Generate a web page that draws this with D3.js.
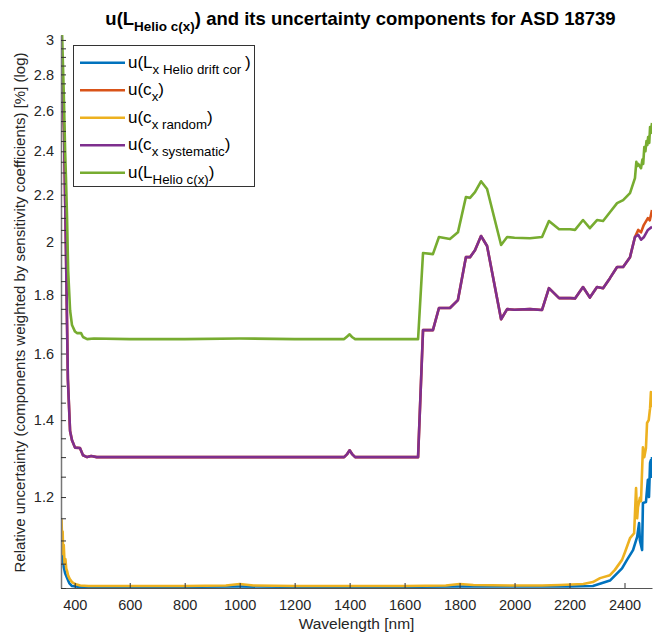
<!DOCTYPE html>
<html>
<head>
<meta charset="utf-8">
<script src="https://cdn.jsdelivr.net/npm/d3@7"></script>
<style>
  html, body { margin: 0; padding: 0; background: #fff; }
  svg { display: block; font-family: "Liberation Sans", Arial, Helvetica, sans-serif; }
</style>
</head>
<body>
<svg id="chart" width="665" height="639"></svg>
<script>
// ---------------- data ----------------
const xTicks = [400, 600, 800, 1000, 1200, 1400, 1600, 1800, 2000, 2200, 2400];
const yTickLabels = [1.2, 1.4, 1.6, 1.8, 2, 2.2, 2.4, 2.6, 2.8, 3];
const yMinorTicks = d3.range(1.0, 3.0001, 0.05).map(v => +v.toFixed(2));

const blueWl = [350, 352, 354, 357, 360, 365, 371, 380, 390, 420, 600, 1000, 1400, 1800, 2200, 2285, 2347, 2391, 2409, 2431, 2446, 2453, 2456, 2464, 2467, 2478, 2485, 2489, 2493, 2496, 2498, 2500];
const blueVal = [1.05, 1.073, 1.06, 1.065, 1.043, 1.03, 1.022, 1.010, 1.004, 1.002, 1.002, 1.003, 1.002, 1.003, 1.003, 1.004, 1.015, 1.04, 1.058, 1.079, 1.108, 1.139, 1.10, 1.079, 1.186, 1.188, 1.242, 1.20, 1.285, 1.292, 1.25, 1.30];

const orangeWl = [350, 354, 361, 368, 375, 383, 390, 401, 419, 430, 445, 460, 480, 600, 800, 1000, 1200, 1380, 1390, 1400, 1410, 1420, 1550, 1649, 1667, 1703, 1725, 1765, 1794, 1823, 1838, 1856, 1878, 1900, 1951, 1973, 2000, 2056, 2100, 2125, 2162, 2202, 2220, 2249, 2274, 2300, 2322, 2347, 2373, 2395, 2420, 2438, 2450, 2460, 2470, 2485, 2492, 2500];
const orangeVal = [2.85, 2.78, 2.50, 1.97, 1.52, 1.37, 1.345, 1.325, 1.324, 1.305, 1.300, 1.303, 1.300, 1.300, 1.300, 1.300, 1.300, 1.300, 1.307, 1.318, 1.307, 1.300, 1.300, 1.300, 1.677, 1.677, 1.753, 1.753, 1.781, 1.941, 1.941, 1.968, 2.025, 1.985, 1.714, 1.749, 1.747, 1.749, 1.746, 1.824, 1.788, 1.788, 1.787, 1.828, 1.79, 1.828, 1.824, 1.861, 1.903, 1.903, 1.941, 2.021, 2.05, 2.04, 2.07, 2.099, 2.09, 2.133];

const yellowWl = [350, 352, 354, 356, 358, 360, 363, 366, 369, 372, 376, 382, 390, 401, 420, 450, 600, 800, 950, 1000, 1050, 1200, 1400, 1600, 1750, 1800, 1850, 2000, 2100, 2165, 2250, 2285, 2311, 2347, 2365, 2391, 2402, 2420, 2435, 2442, 2446, 2449, 2456, 2460, 2467, 2472, 2478, 2482, 2488, 2493, 2496, 2500];
const yellowVal = [1.10, 1.146, 1.10, 1.12, 1.07, 1.09, 1.05, 1.06, 1.04, 1.035, 1.025, 1.018, 1.012, 1.008, 1.005, 1.004, 1.004, 1.004, 1.005, 1.008, 1.005, 1.004, 1.004, 1.004, 1.005, 1.008, 1.006, 1.005, 1.005, 1.006, 1.008, 1.012, 1.020, 1.026, 1.037, 1.058, 1.075, 1.105, 1.116, 1.222, 1.15, 1.176, 1.198, 1.19, 1.326, 1.30, 1.324, 1.392, 1.40, 1.434, 1.481, 1.437];

const purpleWl = [350, 354, 361, 368, 375, 383, 390, 401, 419, 430, 445, 460, 480, 600, 800, 1000, 1200, 1380, 1390, 1400, 1410, 1420, 1550, 1649, 1667, 1703, 1725, 1765, 1794, 1823, 1838, 1856, 1878, 1900, 1951, 1973, 2000, 2056, 2100, 2125, 2162, 2202, 2220, 2249, 2274, 2300, 2322, 2347, 2373, 2395, 2420, 2438, 2450, 2460, 2470, 2485, 2500];
const purpleVal = [2.85, 2.78, 2.50, 1.97, 1.52, 1.37, 1.345, 1.325, 1.324, 1.305, 1.300, 1.303, 1.300, 1.300, 1.300, 1.300, 1.300, 1.300, 1.307, 1.318, 1.307, 1.300, 1.300, 1.300, 1.677, 1.677, 1.753, 1.753, 1.781, 1.941, 1.941, 1.968, 2.025, 1.985, 1.714, 1.749, 1.747, 1.749, 1.746, 1.824, 1.788, 1.788, 1.787, 1.828, 1.79, 1.828, 1.824, 1.861, 1.903, 1.903, 1.941, 2.021, 2.03, 2.01, 2.02, 2.05, 2.063];

const greenWl = [350, 354, 360, 365, 368, 372, 376, 383, 390, 401, 408, 423, 430, 445, 470, 600, 800, 1000, 1200, 1380, 1390, 1400, 1410, 1420, 1550, 1649, 1667, 1703, 1725, 1765, 1794, 1823, 1838, 1856, 1878, 1900, 1951, 1973, 2000, 2056, 2100, 2125, 2162, 2202, 2220, 2249, 2274, 2300, 2322, 2347, 2373, 2395, 2420, 2438, 2443, 2446, 2450, 2455, 2460, 2465, 2468, 2472, 2476, 2480, 2483, 2486, 2490, 2493, 2496, 2500];
const greenVal = [3.10, 3.03, 2.70, 2.40, 2.28, 2.10, 1.89, 1.745, 1.694, 1.672, 1.667, 1.667, 1.654, 1.647, 1.649, 1.647, 1.647, 1.649, 1.647, 1.647, 1.655, 1.663, 1.653, 1.647, 1.647, 1.647, 1.957, 1.953, 2.021, 2.013, 2.04, 2.19, 2.186, 2.211, 2.26, 2.225, 1.989, 2.021, 2.018, 2.016, 2.021, 2.087, 2.053, 2.053, 2.05, 2.091, 2.057, 2.091, 2.087, 2.124, 2.163, 2.176, 2.207, 2.274, 2.35, 2.33, 2.34, 2.33, 2.32, 2.36, 2.34, 2.42, 2.40, 2.45, 2.43, 2.47, 2.44, 2.52, 2.49, 2.54];

const seriesNames = ["blue", "orange", "yellow", "purple", "green"];
const seriesColors = ["#0072BD", "#D95319", "#EDB120", "#7E2F8E", "#77AC30"];
const legendMain = ["u(L", "u(c", "u(c", "u(c", "u(L"];
const legendSub = ["x Helio drift cor ", "x", "x random", "x systematic", "Helio c(x)"];

// ---------------- layout ----------------
const svg = d3.select("#chart");
const L = 61, R = 652, T = 35, B = 588;
const textColor = "#262626";

const x = d3.scaleLinear().domain([350, 2500]).range([L, R]);
const y = d3.scaleLog().domain([1, 3.03]).range([B, T]);

svg.append("defs").append("clipPath").attr("id", "clip")
  .append("rect").attr("x", L).attr("y", T).attr("width", R - L).attr("height", B - T);

// ---------------- series ----------------
const allSeries = [
  {wl: blueWl, val: blueVal},
  {wl: orangeWl, val: orangeVal},
  {wl: yellowWl, val: yellowVal},
  {wl: purpleWl, val: purpleVal},
  {wl: greenWl, val: greenVal}
];
const line = d3.line().x(d => x(d[0])).y(d => y(d[1]));
const plotG = svg.append("g").attr("clip-path", "url(#clip)");
allSeries.forEach((s, i) => {
  const pts = s.wl.map((w, j) => [w, s.val[j]]);
  plotG.append("path").datum(pts)
    .attr("d", line)
    .attr("fill", "none")
    .attr("stroke", seriesColors[i])
    .attr("stroke-width", 2.6)
    .attr("stroke-linejoin", "round");
});

// ---------------- axes ----------------
const xAxis = d3.axisBottom(x).tickValues(xTicks).tickSize(-5).tickSizeOuter(0).tickPadding(12).tickFormat(d3.format("d"));
const gx = svg.append("g").attr("transform", `translate(0,${B})`).call(xAxis);
gx.select(".domain").attr("stroke", "#555").attr("stroke-width", 1.2);
gx.selectAll(".tick line").attr("stroke", "#333");
gx.selectAll(".tick text").attr("fill", textColor).style("font-size", "14.5px")
  .style("font-family", "'Liberation Sans', Arial, sans-serif");

const yAxis = d3.axisLeft(y).tickValues(yMinorTicks).tickSize(-5).tickSizeOuter(0).tickPadding(7)
  .tickFormat(d => yTickLabels.some(v => Math.abs(v - d) < 1e-6) ? d3.format("~g")(d) : "");
const gy = svg.append("g").attr("transform", `translate(${L},0)`).call(yAxis);
gy.select(".domain").attr("stroke", "#777").attr("stroke-width", 1.5);
gy.selectAll(".tick line").attr("stroke", "#333");
gy.selectAll(".tick text").attr("fill", textColor).style("font-size", "14.5px")
  .style("font-family", "'Liberation Sans', Arial, sans-serif");

// ---------------- labels ----------------
svg.append("text").attr("x", (L + R) / 2).attr("y", 629).attr("text-anchor", "middle")
  .attr("fill", textColor).style("font-size", "15.5px").text("Wavelength [nm]");

svg.append("text").attr("transform", `translate(25,${(T + B) / 2 + 1}) rotate(-90)`)
  .attr("text-anchor", "middle").attr("fill", textColor).style("font-size", "15px")
  .text("Relative uncertainty (components weighted by sensitivity coefficients) [%] (log)");

const title = svg.append("text").attr("x", (L + R) / 2 + 4).attr("y", 25).attr("text-anchor", "middle")
  .attr("fill", "#000").style("font-size", "18.5px").style("font-weight", "bold");
title.append("tspan").text("u(L");
title.append("tspan").attr("dy", 6).style("font-size", "13.5px").text("Helio c(x)");
title.append("tspan").attr("dy", -6).text(") and its uncertainty components for ASD 18739");

// ---------------- legend ----------------
const lg = svg.append("g");
lg.append("rect").attr("x", 73.5).attr("y", 45.5).attr("width", 181).attr("height", 141)
  .attr("fill", "#fff").attr("stroke", "#333").attr("stroke-width", 1);
seriesNames.forEach((n, i) => {
  const ry = 62.7 + i * 27.5;
  lg.append("line").attr("x1", 80).attr("x2", 125).attr("y1", ry).attr("y2", ry)
    .attr("stroke", seriesColors[i]).attr("stroke-width", 2.6);
  const t = lg.append("text").attr("x", 128).attr("y", ry + 5).attr("fill", "#000").style("font-size", "17px");
  t.append("tspan").text(legendMain[i]);
  t.append("tspan").attr("dy", 6).style("font-size", "13.3px").text(legendSub[i]);
  t.append("tspan").attr("dy", -6).text(")");
});
</script>
</body>
</html>
